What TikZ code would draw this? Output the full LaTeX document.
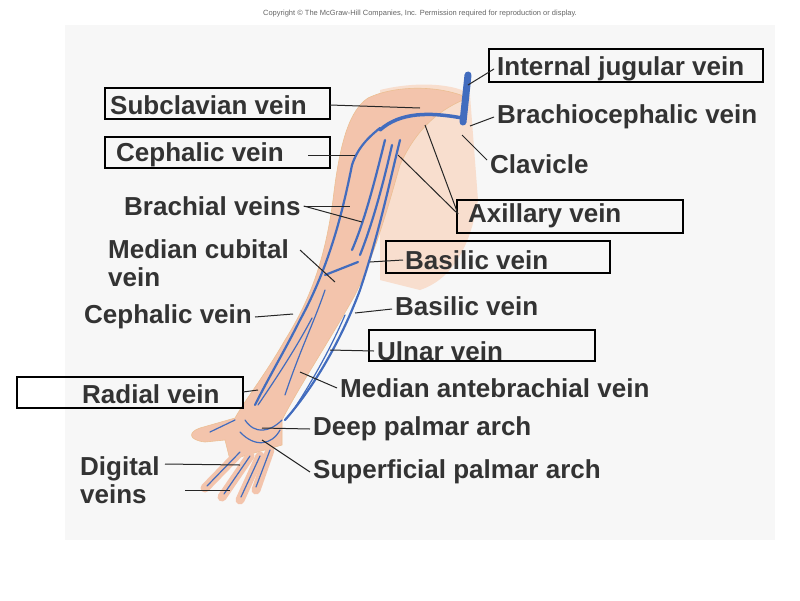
\documentclass[tikz,border=0pt]{standalone}
\usepackage{fontspec}
\setmainfont{Liberation Sans}
\definecolor{vblue}{RGB}{66,108,190}
\definecolor{skinc}{RGB}{243,196,172}
\definecolor{torsoc}{RGB}{248,222,206}
\begin{document}
\begin{tikzpicture}[x=1pt,y=-1pt,
  lab/.style={font=\fontsize{26}{28}\selectfont\bfseries,text=black!80,anchor=west,inner sep=0pt,yshift=-3pt},
  box/.style={draw=black,line width=1.2pt},
  lead/.style={draw=black!85,line width=1pt},
  vein/.style={draw=vblue,line width=2.2pt,line cap=round},
  thinvein/.style={draw=vblue,line width=1.2pt,line cap=round},
  skin/.style={fill=skinc,draw=orange!40!brown!50!white,line width=0.6pt}]
\useasboundingbox (0,0) rectangle (800,600);
\fill[white] (0,0) rectangle (800,600);
\fill[black!3] (65,25) rectangle (775,540);
\node[font=\fontsize{7.5}{9}\selectfont,text=black!60] (copy) at (420,14) {Copyright \copyright\ The McGraw-Hill Companies, Inc. Permission required for reproduction or display.};
% torso
\fill[torsoc] (380,90) .. controls (420,80) and (460,85) .. (470,95) -- (478,200) .. controls (470,250) and (450,280) .. (420,290) -- (380,280) -- cycle;
% arm
\path[skin] (368,98) .. controls (350,110) and (340,140) .. (333,200)
  .. controls (325,260) and (310,300) .. (285,340)
  .. controls (265,375) and (245,400) .. (235,418)
  -- (200,428) .. controls (188,432) and (188,440) .. (205,442)
  -- (225,440) -- (230,460) -- (282,445) -- (282,420)
  .. controls (300,385) and (330,340) .. (355,295)
  .. controls (375,255) and (390,200) .. (400,165)
  .. controls (420,120) and (450,105) .. (468,98)
  .. controls (440,85) and (395,85) .. (368,98) -- cycle;
% fingers
\foreach \a/\b in {{240,452}/{205,488},{250,456}/{222,497},{260,456}/{240,500},{270,450}/{256,490}}
  \draw[line width=9pt,line cap=round,skinc] (\a) -- (\b);
\foreach \a/\b in {{240,452}/{207,486},{250,456}/{224,494},{260,456}/{241,497},{270,450}/{256,487}}
  \draw[thinvein] (\a) -- (\b);
% veins
\draw[vblue,line width=7pt,line cap=round] (468,75) -- (463,122);
\draw[vein,line width=3.5pt] (462,118) .. controls (430,112) and (400,112) .. (380,130);
\draw[vein] (380,128) .. controls (365,140) and (357,150) .. (352,165) .. controls (343,210) and (330,265) .. (300,320) .. controls (285,350) and (270,375) .. (255,405);
\draw[vein] (400,140) .. controls (390,180) and (380,230) .. (360,290) .. controls (345,330) and (320,380) .. (285,420);
\draw[vein] (385,140) .. controls (375,180) and (365,220) .. (352,250);
\draw[vein] (392,145) .. controls (383,185) and (372,225) .. (360,255);
\draw[vein] (325,275) -- (358,262);
\draw[thinvein] (325,290) .. controls (315,320) and (300,350) .. (285,395);
\draw[thinvein] (345,315) .. controls (330,350) and (310,385) .. (292,412);
\draw[thinvein] (312,318) .. controls (295,350) and (275,380) .. (258,405);
\draw[thinvein] (245,420) .. controls (255,435) and (270,432) .. (282,420);
\draw[thinvein] (240,432) .. controls (255,448) and (272,445) .. (280,430);
\draw[thinvein] (235,420) -- (210,432);
% labels
\node[lab] (ij) at (497,66) {Internal jugular vein};
\node[lab] (sc) at (110,102) {Subclavian vein};
\node[lab] (bc) at (497,114) {Brachiocephalic vein};
\node[lab] (ce1) at (116,152) {Cephalic vein};
\node[lab] (cl) at (490,161) {Clavicle};
\node[lab] (br) at (124,203) {Brachial veins};
\node[lab] (ax) at (468,213) {Axillary vein};
\node[lab,align=left] (mc) at (108,260) {Median cubital\\vein};
\node[lab] (ba1) at (405,257) {Basilic vein};
\node[lab] (ce2) at (84,314) {Cephalic vein};
\node[lab] (ba2) at (395,303) {Basilic vein};
\node[lab] (ul) at (377,348) {Ulnar vein};
\node[lab] (ma) at (340,385) {Median antebrachial vein};
\node[lab] (ra) at (82,391) {Radial vein};
\node[lab] (dp) at (313,426) {Deep palmar arch};
\node[lab,align=left] (dv) at (80,477) {Digital\\veins};
\node[lab] (sp) at (313,469) {Superficial palmar arch};
% boxes
\draw[box] (489,49) rectangle (763,82);
\draw[box] (105,88) rectangle (330,119);
\draw[box] (105,137) rectangle (330,168);
\draw[box] (457,200) rectangle (683,233);
\draw[box] (386,241) rectangle (610,273);
\draw[box] (369,330) rectangle (595,361);
\draw[box] (17,377) rectangle (243,408);
% leaders
\coordinate (pij) at (468,85); \coordinate (psc) at (420,108);
\coordinate (pbc) at (470,126); \coordinate (pce1) at (355,155);
\coordinate (pcl) at (462,135); \coordinate (pbr) at (350,206);
\coordinate (pbr2) at (362,222);
\coordinate (pax1) at (398,155); \coordinate (pax2) at (425,125);
\coordinate (pmc) at (335,282); \coordinate (pba1) at (370,262);
\coordinate (pce2) at (293,314); \coordinate (pba2) at (355,313);
\coordinate (pul) at (330,350); \coordinate (pma) at (300,372);
\coordinate (pra) at (258,390); \coordinate (pdp) at (262,428);
\coordinate (pdv1) at (240,465); \coordinate (psp) at (262,440);
\draw[lead] (ij.west) ++(-3,0) -- (pij);
\draw[lead] (330,105) -- (psc);
\draw[lead] (bc.west) ++(-3,0) -- (pbc);
\draw[lead] (308,155) -- (pce1);
\draw[lead] (cl.west) ++(-3,-4) -- (pcl);
\draw[lead] (br.east) ++(3,0) -- (pbr);
\draw[lead] (br.east) ++(3,0) -- (pbr2);
\draw[lead] (ax.west) ++(-10,-2) -- (pax1);
\draw[lead] (ax.west) ++(-10,-2) -- (pax2);
\draw[lead] (300,250) -- (pmc);
\draw[lead] (ba1.west) ++(-2,0) -- (pba1);
\draw[lead] (ce2.east) ++(3,0) -- (pce2);
\draw[lead] (ba2.west) ++(-3,3) -- (pba2);
\draw[lead] (ul.west) ++(-3,0) -- (pul);
\draw[lead] (ma.west) ++(-3,0) -- (pma);
\draw[lead] (243,392) -- (pra);
\draw[lead] (dp.west) ++(-3,0) -- (pdp);
\draw[lead] (165,464) -- (pdv1);
\draw[lead] (185,490) -- (230,490);
\draw[lead] (sp.west) ++(-3,0) -- (psp);
\end{tikzpicture}
\end{document}
